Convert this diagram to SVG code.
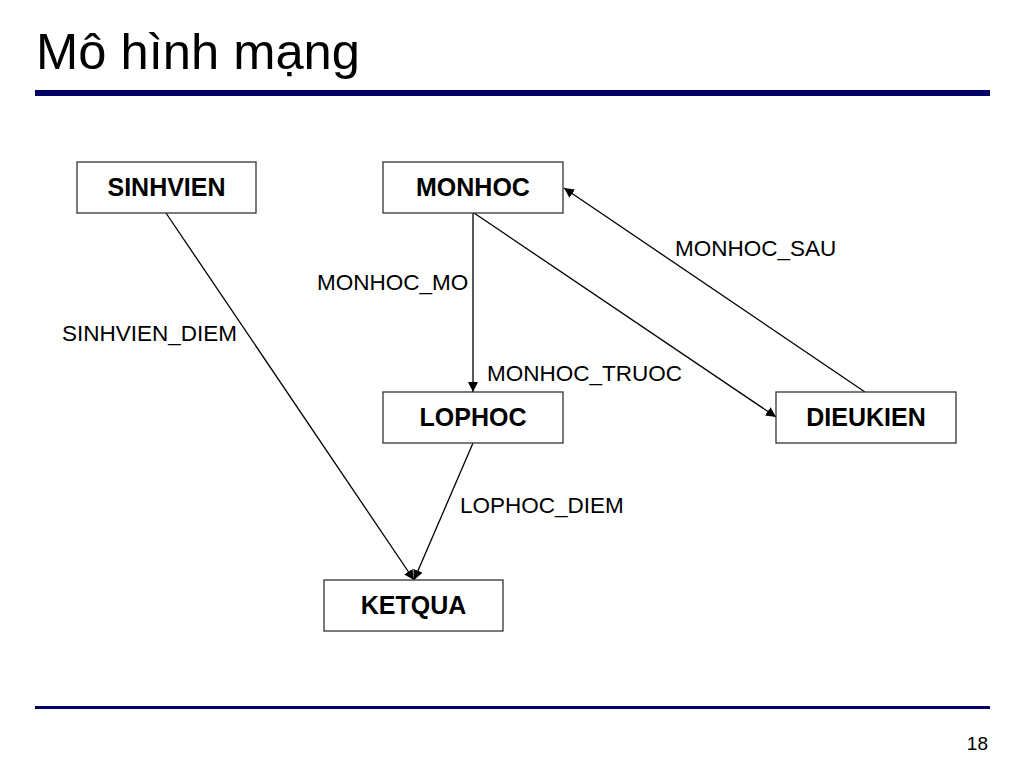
<svg xmlns="http://www.w3.org/2000/svg" width="1024" height="768" viewBox="0 0 1024 768">
<defs>
<style>
.box{fill:#fff;stroke:#333;stroke-width:1.3}
.bt{font-family:"Liberation Sans",Arial,sans-serif;font-weight:bold;font-size:25px;fill:#000;text-anchor:middle}
.lb{font-family:"Liberation Sans",Arial,sans-serif;font-size:22.5px;fill:#000}
.ln{stroke:#000;stroke-width:1.3;fill:none;marker-end:url(#ah)}
</style>
<marker id="ah" viewBox="0 0 10 10" refX="10" refY="5" markerWidth="10" markerHeight="10" markerUnits="userSpaceOnUse" orient="auto">
<path d="M0,0 L10,5 L0,10 z" fill="#000"/>
</marker>
</defs>
<rect width="1024" height="768" fill="#fff"/>
<text x="36" y="69" font-family="Liberation Sans,Arial,sans-serif" font-size="50" fill="#000" textLength="324" lengthAdjust="spacingAndGlyphs">Mô hình mạng</text>
<rect x="35" y="90" width="955" height="6" fill="#000066"/>
<rect x="35" y="706" width="955" height="3" fill="#000066"/>
<text x="988" y="750" font-family="Liberation Sans,Arial,sans-serif" font-size="19" fill="#000" text-anchor="end">18</text>
<g id="connectors">
<line class="ln" x1="166" y1="213" x2="414" y2="580"/>
<line class="ln" x1="473" y1="213" x2="473" y2="392"/>
<line class="ln" x1="474" y1="213" x2="776" y2="417"/>
<line class="ln" x1="865" y1="392" x2="564" y2="188"/>
<line class="ln" x1="473" y1="443" x2="414" y2="580"/>
</g>
<g id="labels">
<text class="lb" x="62" y="341">SINHVIEN_DIEM</text>
<text class="lb" x="317" y="290">MONHOC_MO</text>
<text class="lb" x="675" y="256">MONHOC_SAU</text>
<text class="lb" x="487" y="381">MONHOC_TRUOC</text>
<text class="lb" x="460" y="513">LOPHOC_DIEM</text>
</g>
<g id="SINHVIEN"><rect class="box" x="77" y="162" width="179" height="51"/><text class="bt" x="166.5" y="196">SINHVIEN</text></g>
<g id="MONHOC"><rect class="box" x="383" y="162" width="180" height="51"/><text class="bt" x="473" y="196">MONHOC</text></g>
<g id="LOPHOC"><rect class="box" x="383" y="392" width="180" height="51"/><text class="bt" x="473" y="426">LOPHOC</text></g>
<g id="DIEUKIEN"><rect class="box" x="776" y="392" width="180" height="51"/><text class="bt" x="866" y="426">DIEUKIEN</text></g>
<g id="KETQUA"><rect class="box" x="324" y="580" width="179" height="51"/><text class="bt" x="413.5" y="614">KETQUA</text></g>
</svg>
